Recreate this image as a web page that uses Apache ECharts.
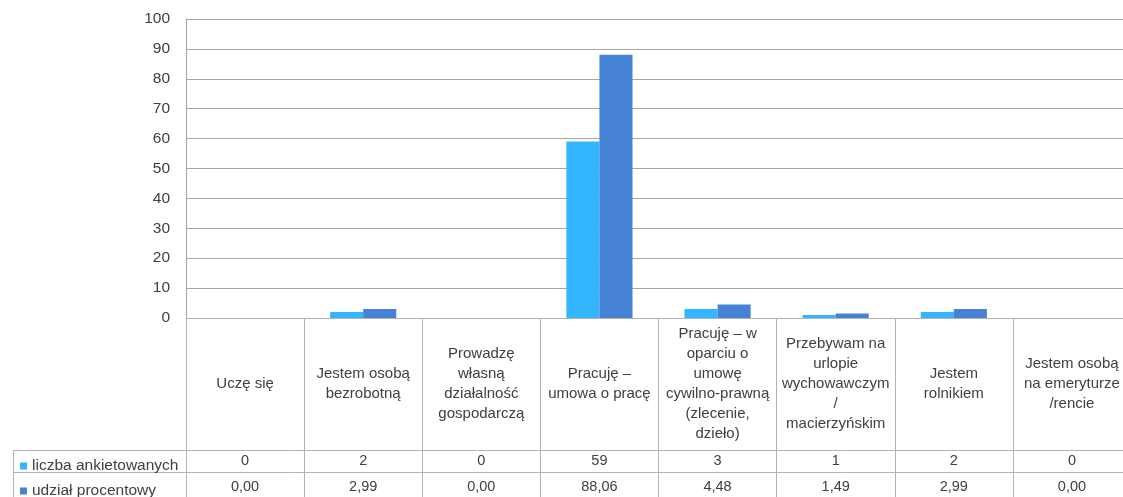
<!DOCTYPE html>
<html><head><meta charset="utf-8">
<script src="https://cdn.jsdelivr.net/npm/echarts@6/dist/echarts.min.js"></script>
<style>html,body{margin:0;padding:0;background:#fff}#c{width:1123px;height:497px}</style>
</head><body><div id="c"></div>
<script>
const categories = [
  "Uczę się",
  "Jestem osobą\nbezrobotną",
  "Prowadzę\nwłasną\ndziałalność\ngospodarczą",
  "Pracuję –\numowa o pracę",
  "Pracuję – w\noparciu o\numowę\ncywilno-prawną\n(zlecenie,\ndzieło)",
  "Przebywam na\nurlopie\nwychowawczym\n/\nmacierzyńskim",
  "Jestem\nrolnikiem",
  "Jestem osobą\nna emeryturze\n/rencie"
];
const seriesNames = ["liczba ankietowanych", "udział procentowy"];
const counts = [0, 2, 0, 59, 3, 1, 2, 0];
const percents = [0.00, 2.99, 0.00, 88.06, 4.48, 1.49, 2.99, 0.00];
const yTicks = [0, 10, 20, 30, 40, 50, 60, 70, 80, 90, 100];

const FONT = "Liberation Sans";
const TXT = "#404040";
const TABLE = "#b4b4b4";
const fmtPct = v => v.toFixed(2).replace(".", ",");

const chart = echarts.init(document.getElementById("c"), null, {renderer: "canvas"});
const gridLeft = 186, gridTop = 19, gridW = 945, gridH = 299;
const W = 1123;

const legendText = {fontFamily: FONT, fontSize: 15.5, color: TXT};
chart.setOption({
  animation: false,
  textStyle: {fontFamily: FONT},
  grid: {left: gridLeft, top: gridTop, width: gridW, height: gridH, containLabel: false, outerBoundsMode: "none"},
  legend: [
    {left: 15, top: 453, itemWidth: 7, itemHeight: 7, itemGap: 0, icon: "rect", selectedMode: false,
     textStyle: legendText, data: [seriesNames[0]]},
    {left: 15, top: 478, itemWidth: 7, itemHeight: 7, itemGap: 0, icon: "rect", selectedMode: false,
     textStyle: legendText, data: [seriesNames[1]]}
  ],
  xAxis: [
    {
      type: "category", data: categories, position: "bottom",
      axisLine: {show: true, lineStyle: {color: TABLE, width: 1}},
      axisTick: {show: true, length: 179, lineStyle: {color: TABLE}},
      axisLabel: {margin: 66, verticalAlign: "middle", fontSize: 15, lineHeight: 20, color: TXT, fontFamily: FONT, interval: 0, align: "center"},
      splitLine: {show: false}
    },
    {
      type: "category", data: counts.map(String), position: "bottom", gridIndex: 0,
      axisLine: {show: false}, axisTick: {show: false},
      axisLabel: {margin: 143, verticalAlign: "middle", fontSize: 14.5, color: TXT, fontFamily: FONT, interval: 0}
    },
    {
      type: "category", data: percents.map(fmtPct), position: "bottom", gridIndex: 0,
      axisLine: {show: false}, axisTick: {show: false},
      axisLabel: {margin: 169, verticalAlign: "middle", fontSize: 14.5, color: TXT, fontFamily: FONT, interval: 0}
    }
  ],
  yAxis: {
    type: "value", min: yTicks[0], max: yTicks[yTicks.length - 1], interval: yTicks[1] - yTicks[0],
    axisLine: {show: true, lineStyle: {color: "#a6a6a6"}},
    axisTick: {show: false},
    axisLabel: {margin: 16, fontSize: 15.5, color: TXT, fontFamily: FONT},
    splitLine: {lineStyle: {color: "#a6a6a6", width: 1}}
  },
  series: [
    {name: seriesNames[0], type: "bar", data: counts, xAxisIndex: 0, barGap: "0%", barCategoryGap: "44%",
     itemStyle: {color: "#33b5ff"}},
    {name: seriesNames[1], type: "bar", data: percents, xAxisIndex: 0, barGap: "0%", barCategoryGap: "44%",
     itemStyle: {color: "#4683d5"}}
  ],
  graphic: [
    {type: "line", shape: {x1: 13, y1: 450.5, x2: W, y2: 450.5}, style: {stroke: TABLE, lineWidth: 1}, silent: true},
    {type: "line", shape: {x1: 13, y1: 472.5, x2: W, y2: 472.5}, style: {stroke: TABLE, lineWidth: 1}, silent: true},
    {type: "line", shape: {x1: 13.5, y1: 450, x2: 13.5, y2: 497}, style: {stroke: TABLE, lineWidth: 1}, silent: true}
  ]
});
</script>
</body></html>
